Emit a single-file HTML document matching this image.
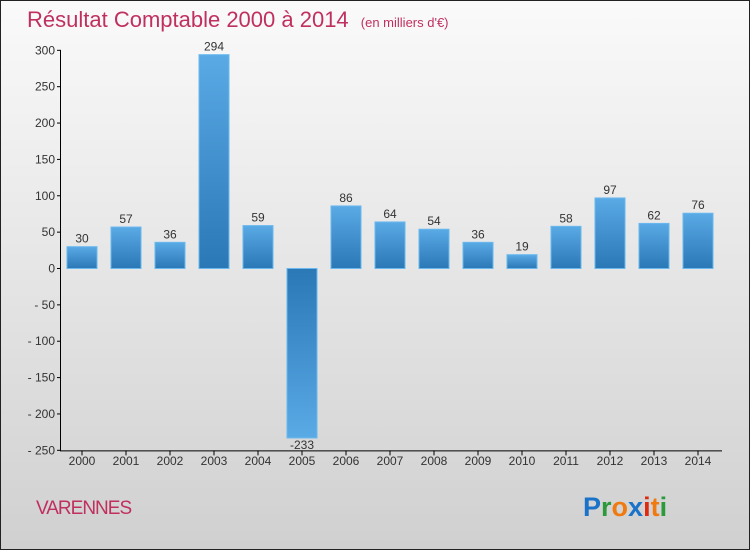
<!DOCTYPE html>
<html><head><meta charset="utf-8"><style>
body{margin:0;}
#wrap{position:relative;width:750px;height:550px;box-sizing:border-box;border:1px solid #222;background:linear-gradient(#fafafa,#d0d0d0);overflow:hidden;font-family:"Liberation Sans",sans-serif;}
</style></head><body>
<div id="wrap">
<svg id="chart" width="750" height="550" style="position:absolute;left:-1px;top:-1px">
<defs>
<linearGradient id="gp" x1="0" y1="0" x2="0" y2="1"><stop offset="0" stop-color="#5aaae6"/><stop offset="1" stop-color="#2a78b6"/></linearGradient>
<linearGradient id="gn" x1="0" y1="0" x2="0" y2="1"><stop offset="0" stop-color="#2a78b6"/><stop offset="1" stop-color="#5aaae6"/></linearGradient>
</defs>
<text x="27" y="27" font-size="22" fill="#c0305e">Résultat Comptable 2000 à 2014 <tspan font-size="13" dx="6">(en milliers d'€)</tspan></text>
<text x="36" y="514" font-size="19" fill="#c0305e" letter-spacing="-1">VARENNES</text>
<text x="583" y="516" font-size="27" font-weight="bold"><tspan fill="#1a73c8">P</tspan><tspan fill="#2a9a3a">r</tspan><tspan fill="#f07a10">o</tspan><tspan fill="#1a73c8">x</tspan><tspan fill="#e02a10">i</tspan><tspan fill="#f07a10">t</tspan><tspan fill="#2a9a3a">i</tspan></text>
<g id="plot"></g>
</svg>
</div>
<script>
const categories=["2000","2001","2002","2003","2004","2005","2006","2007","2008","2009","2010","2011","2012","2013","2014"];
const values=[30,57,36,294,59,-233,86,64,54,36,19,58,97,62,76];
const yTicks=[300,250,200,150,100,50,0,-50,-100,-150,-200,-250];
const ns="http://www.w3.org/2000/svg";
const g=document.getElementById('plot');
const y=v=>268.5-v*(400/550)*1;
const x=i=>82+i*44;
function mk(t,a,txt){const e=document.createElementNS(ns,t);for(const k in a)e.setAttribute(k,a[k]);if(txt!==undefined)e.textContent=txt;g.appendChild(e);return e;}
let ax=mk('line',{x1:60.5,x2:60.5,y1:y(300),y2:y(-250),stroke:'#000'});


let bx=mk('line',{x1:60,x2:722,y1:y(-250)+0.5,y2:y(-250)+0.5,stroke:'#000'});


yTicks.forEach(v=>{
 mk('line',{x1:57,x2:61,y1:y(v),y2:y(v),stroke:'#000'});
 let t=mk('text',{x:55,y:y(v)+4,'text-anchor':'end','font-size':12,fill:'#333'},String(v).replace('-','- '));
 
 
});
categories.forEach((c,i)=>{
 const v=values[i];
 mk('line',{x1:x(i),x2:x(i),y1:y(-250),y2:y(-250)+5,stroke:'#000'});
 let t=mk('text',{x:x(i),y:465,'text-anchor':'middle','font-size':12,fill:'#333'},c);
 
 
 const top=v>=0?y(v):y(0), h=Math.abs(y(v)-y(0));
 let r=mk('rect',{x:x(i)-15,y:top,width:30,height:h,fill:v>=0?'url(#gp)':'url(#gn)',stroke:'#6ab8ee','stroke-width':1});
 
 
 let l=mk('text',{x:x(i),y:v>=0?y(v)-4:y(v)+11,'text-anchor':'middle','font-size':12,fill:'#333'},String(v));
 
 
});
</script>
</body></html>
